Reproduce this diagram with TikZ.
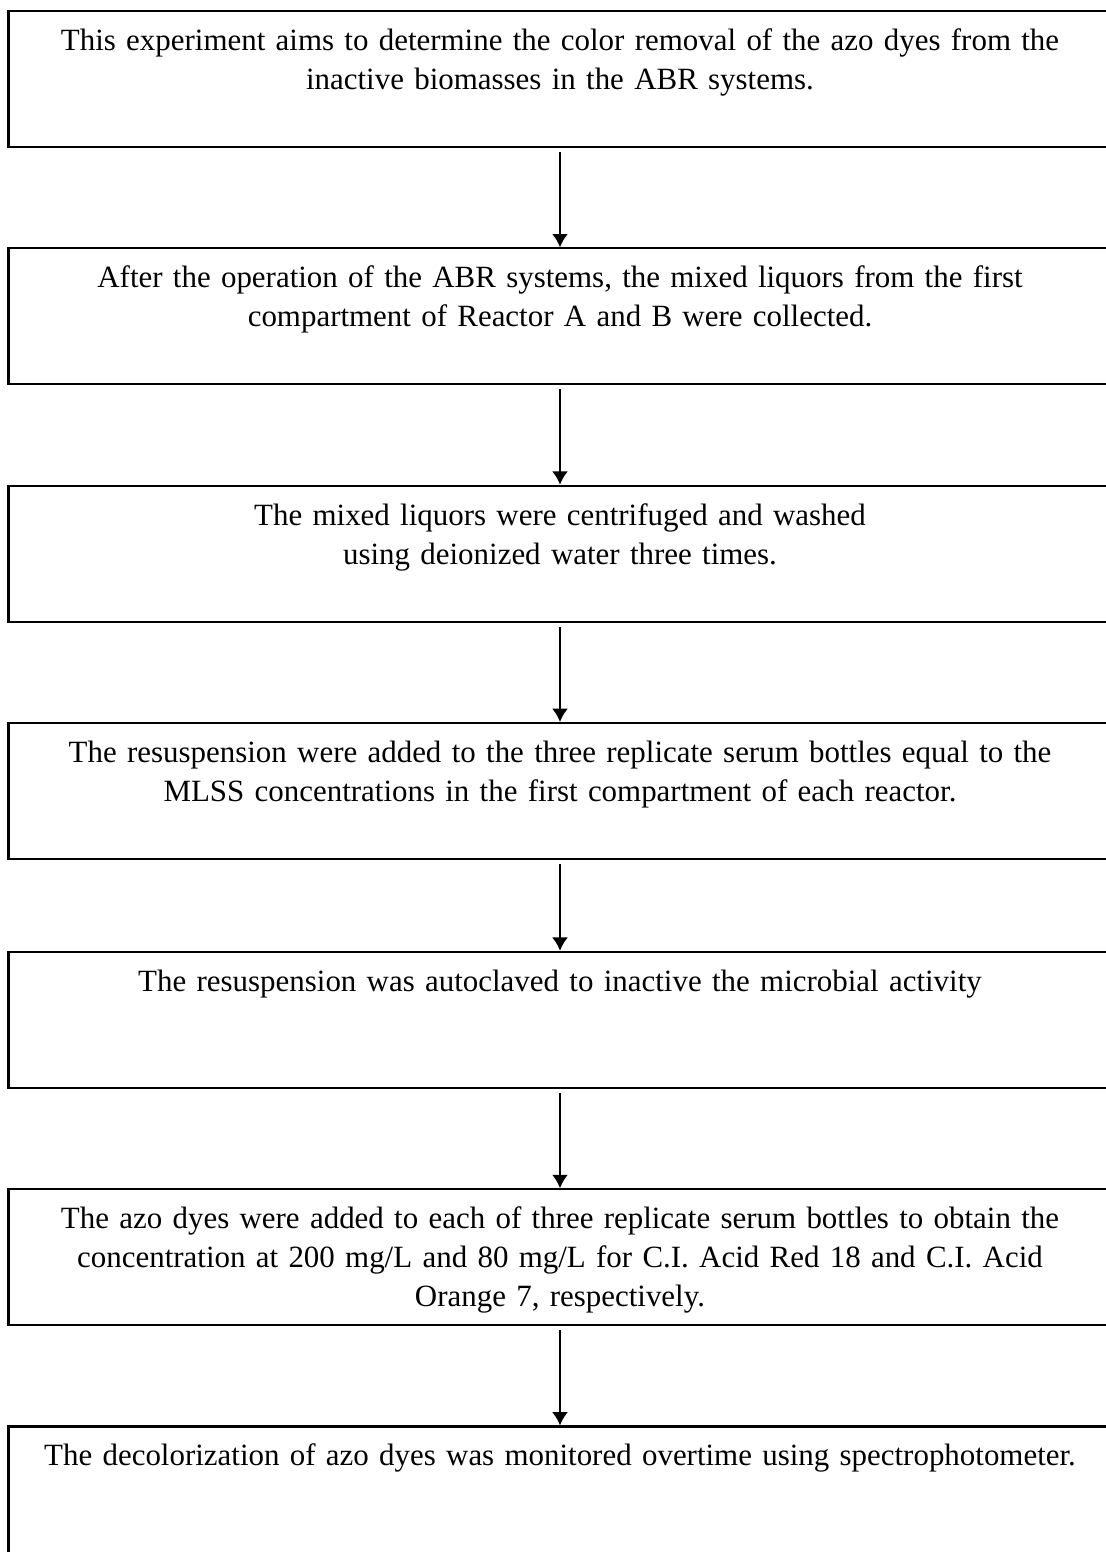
\documentclass[tikz,border=0pt]{standalone}
\usepackage{fontspec}
\setmainfont{Liberation Serif}
\usepackage{tikz}
\usetikzlibrary{positioning, arrows.meta}

\begin{document}
\begin{tikzpicture}[x=0.375pt, y=-0.375pt, node distance=37.2pt,
    font=\fontsize{11.6}{14.6}\selectfont,
    stepbox/.style={draw, line width=0.8pt, rectangle, align=center,
      text width=405pt, minimum width=413.6pt, minimum height=51pt,
      inner xsep=2pt, inner ysep=4pt, text height=10.5pt, text depth=32pt},
    flecha/.style={line width=0.8pt, -{Latex[length=5pt, width=6pt]}}]

      % 0. Marco de la figura
      \useasboundingbox (0,0) rectangle (1105,1552);

      % 1. CAJAS (una debajo de otra)
      \node[stepbox, anchor=north] (s1) at (560,10) {
        This experiment aims to determine the color removal of the azo dyes from the\\
        inactive biomasses in the ABR systems.
      };

      \node[stepbox, below=of s1] (s2) {
        After the operation of the ABR systems, the mixed liquors from the first\\
        compartment of Reactor A and B were collected.
      };

      \node[stepbox, below=of s2] (s3) {
        The mixed liquors were centrifuged and washed\\
        using deionized water three times.
      };

      \node[stepbox, below=of s3] (s4) {
        The resuspension were added to the three replicate serum bottles equal to the\\
        MLSS concentrations in the first compartment of each reactor.
      };

      \node[stepbox, below=34pt of s4] (s5) {
        The resuspension was autoclaved to inactive the microbial activity
      };

      \node[stepbox, below=of s5] (s6) {
        The azo dyes were added to each of three replicate serum bottles to obtain the\\
        concentration at 200 mg/L and 80 mg/L for C.I. Acid Red 18 and C.I. Acid\\
        Orange 7, respectively.
      };

      \node[stepbox, below=of s6] (s7) {
        The decolorization of azo dyes was monitored overtime using spectrophotometer.
      };

      % 2. FLECHAS entre cajas
      \draw[flecha] ([yshift=-1.5pt]s1.south) -- (s2.north);
      \draw[flecha] ([yshift=-1.5pt]s2.south) -- (s3.north);
      \draw[flecha] ([yshift=-1.5pt]s3.south) -- (s4.north);
      \draw[flecha] ([yshift=-1.5pt]s4.south) -- (s5.north);
      \draw[flecha] ([yshift=-1.5pt]s5.south) -- (s6.north);
      \draw[flecha] ([yshift=-1.5pt]s6.south) -- (s7.north);

    \end{tikzpicture}
\end{document}
